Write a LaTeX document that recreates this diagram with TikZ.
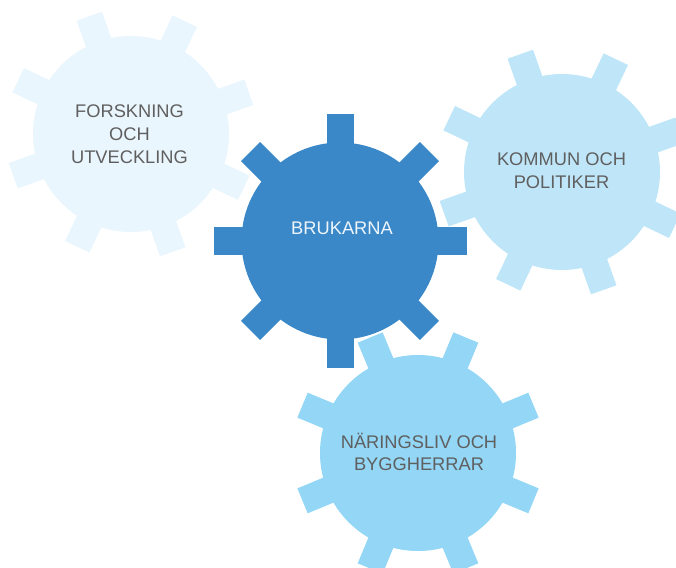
\documentclass[tikz,border=0pt]{standalone}
\usepackage{fontspec}
\setmainfont{Liberation Sans}

\definecolor{paleblue}{HTML}{EAF6FD}
\definecolor{lightblue}{HTML}{BFE6F8}
\definecolor{skyblue}{HTML}{93D6F5}
\definecolor{darkblue}{HTML}{3A88C8}
\definecolor{labelgray}{HTML}{5F5F5F}

\begin{document}
\begin{tikzpicture}[
    gearlabel/.style={align=center, text=labelgray, font=\fontsize{10.4}{13}\selectfont},
    tooth/.style={rotate=#1}]
  \useasboundingbox (0,0) rectangle (13.52,11.34);
  % Gear 1: top left, pale, teeth between the axes
  \begin{scope}[shift={(2.62,8.66)}, rotate=-3]
    \fill[paleblue] (0,0) circle (1.96);
    \foreach \a in {22.5,67.5,...,337.5}
      \fill[paleblue, tooth=\a] (-0.27,0) rectangle (0.27,2.5);
  \end{scope}
  \node[gearlabel] (forskning) at (2.59,8.66) {FORSKNING\\OCH\\UTVECKLING};
  % Gear 2: right, light blue
  \begin{scope}[shift={(11.24,7.90)}, rotate=-3]
    \fill[lightblue] (0,0) circle (1.96);
    \foreach \a in {22.5,67.5,...,337.5}
      \fill[lightblue, tooth=\a] (-0.27,0) rectangle (0.27,2.5);
  \end{scope}
  \node[gearlabel] (kommun) at (11.23,7.93) {KOMMUN OCH\\POLITIKER};
  % Gear 3: bottom, sky blue
  \begin{scope}[shift={(8.36,2.28)}]
    \fill[skyblue] (0,0) circle (1.96);
    \foreach \a in {22.5,67.5,...,337.5}
      \fill[skyblue, tooth=\a] (-0.27,0) rectangle (0.27,2.5);
  \end{scope}
  \node[gearlabel] (naringsliv) at (8.38,2.30) {NÄRINGSLIV OCH\\BYGGHERRAR};
  % Gear 4: centre, dark blue, teeth on the axes
  \begin{scope}[shift={(6.80,6.52)}]
    \fill[darkblue] (0,0) circle (1.97);
    \foreach \a in {0,45,...,315}
      \fill[darkblue, tooth=\a] (-0.27,0) rectangle (0.27,2.53);
  \end{scope}
  \node[gearlabel, text=white!92!darkblue] (brukarna) at (6.84,6.78) {BRUKARNA};
\end{tikzpicture}
\end{document}
